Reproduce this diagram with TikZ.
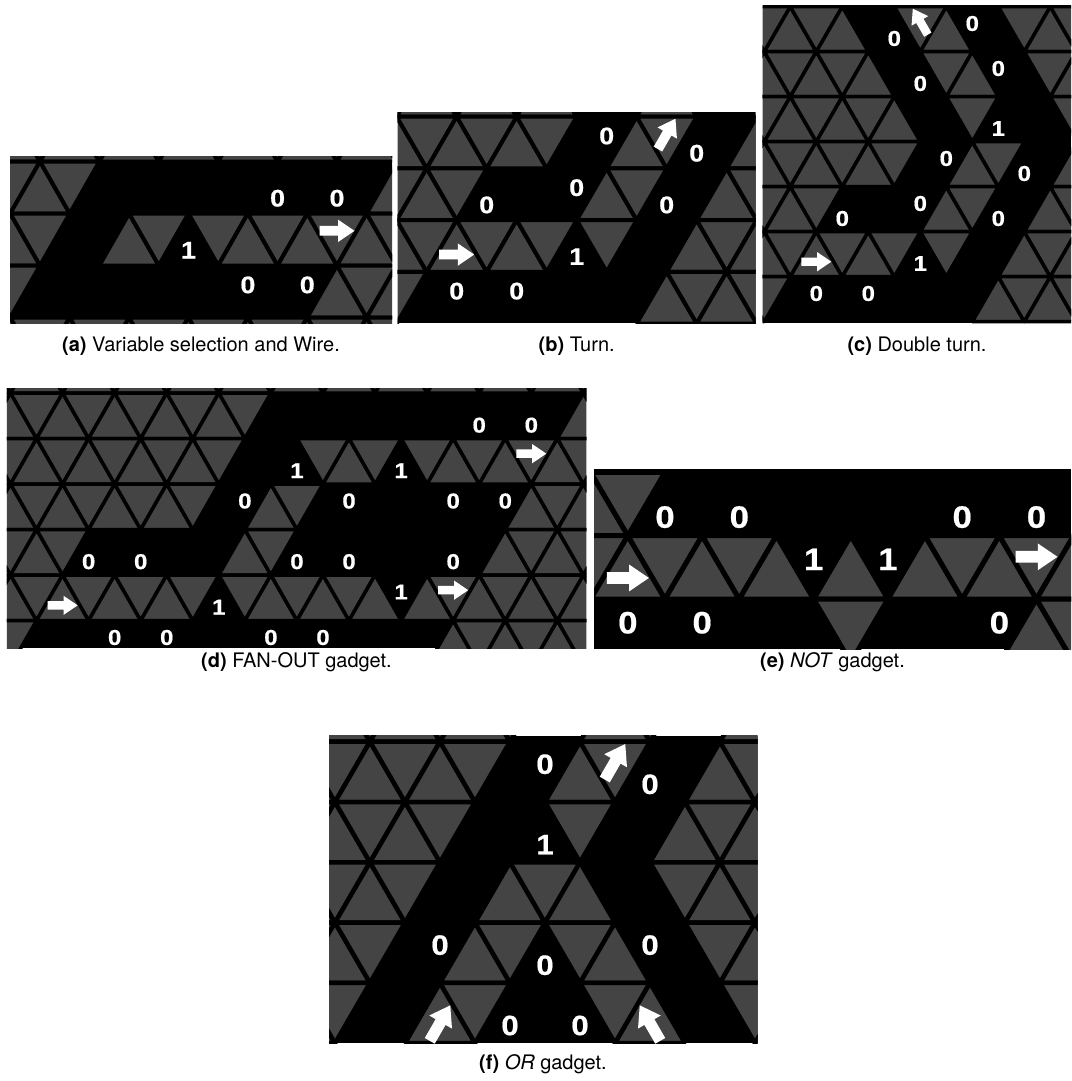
\documentclass[tikz,border=0pt]{standalone}
\usepackage{fontspec}
\setmainfont{TeX Gyre Heros}
\newfontfamily\dfont{Liberation Sans}[FakeStretch=1.12,FakeBold=0.6]
\definecolor{trigray}{RGB}{68,68,68}
\newcount\mylabcount
\newcommand\panelset[7]{\def\pX{#1}\def\pY{#2}\def\pS{#3}\def\pH{#4}\def\lw{#5}\def\dsize{#6}\def\aL{#7}}
\newcommand\tri[2]{%
  \ifodd\numexpr#1+#2\relax
    \filldraw[tribox] ({\pX+(#2-1)*\pS},{\pY+(#1)*\pH}) -- ({\pX+(#2+1)*\pS},{\pY+(#1)*\pH}) -- ({\pX+(#2)*\pS},{\pY+(#1+1)*\pH}) -- cycle;
  \else
    \filldraw[tribox] ({\pX+(#2)*\pS},{\pY+(#1)*\pH}) -- ({\pX+(#2-1)*\pS},{\pY+(#1+1)*\pH}) -- ({\pX+(#2+1)*\pS},{\pY+(#1+1)*\pH}) -- cycle;
  \fi}
\newcommand\trow[2]{\foreach \n in {#2}{\tri{#1}{\n}}}
\newcommand\lab[3]{%
  \ifodd\numexpr#1+#2\relax\def\fr{0.3733}\else\def\fr{0.7067}\fi
  \global\advance\mylabcount by 1
  \node[digit] (lab\the\mylabcount) at ({\pX+(#2)*\pS},{\pY+(#1+\fr)*\pH}) {#3};}
\newcommand\arr[3]{%
  \ifodd\numexpr#1+#2\relax\def\fr{0.3333}\else\def\fr{0.6667}\fi
  \begin{scope}[shift={({\pX+(#2)*\pS},{\pY+(#1+\fr)*\pH})}, rotate=#3]
    \fill[white] ({-0.5*\aL},{-0.14*\aL}) -- ({0.03*\aL},{-0.14*\aL}) -- ({0.03*\aL},{-0.32*\aL}) -- ({0.5*\aL},0) -- ({0.03*\aL},{0.32*\aL}) -- ({0.03*\aL},{0.14*\aL}) -- ({-0.5*\aL},{0.14*\aL}) -- cycle;
  \end{scope}}
\tikzset{
  tribox/.style={fill=trigray, draw=black, line width=\lw pt, line join=bevel},
  digit/.style={text=white, inner sep=0pt, font=\dfont\bfseries\fontsize{\dsize}{\dsize}\selectfont},
  capt/.style={text=black, inner sep=0pt, anchor=base, font=\fontsize{20}{24}\selectfont}
}
\begin{document}
\begin{tikzpicture}[x=1pt, y=-1pt]
\useasboundingbox (0,0) rectangle (1071,1081);
\fill[white] (0,0) rectangle (1071,1081);

% ---------------- (a)
\begin{scope}
\clip (10,156) rectangle (392,323.3);
\fill[black] (10,156) rectangle (392,323.3);
\panelset{40}{161.5}{29.7}{52}{4}{24}{35}
\trow{-1}{-2,...,14}
\trow{0}{-2,-1,0,1,12,13,14}
\trow{1}{-2,-1,0,3,4,6,7,8,9,10,11,12,13,14}
\trow{2}{-2,-1,10,11,12,13,14}
\trow{3}{-2,...,14}
\lab{0}{8}{0}\lab{0}{10}{0}\lab{1}{5}{1}\lab{2}{7}{0}\lab{2}{9}{0}
\arr{1}{10}{0}
\end{scope}
\node[capt] (capA) at (201,351.5) {\textbf{(a)} Variable selection and Wire.};

% ---------------- (b)
\begin{scope}
\clip (397.7,112.3) rectangle (755.7,323.3);
\fill[black] (397.7,112.3) rectangle (755.7,323.3);
\panelset{396.7}{116.7}{30}{51.7}{4}{24}{35}
\trow{-1}{-1,...,6,9,10,13}
\trow{0}{-1,...,5,8,9,12,13}
\trow{1}{-1,0,1,2,7,8,11,12,13}
\trow{2}{-1,...,5,7,10,11,12,13}
\trow{3}{-1,0,9,10,11,12,13}
\lab{0}{7}{0}\lab{0}{10}{0}\lab{1}{3}{0}\lab{1}{6}{0}\lab{1}{9}{0}
\lab{2}{6}{1}\lab{3}{2}{0}\lab{3}{4}{0}
\arr{2}{2}{0}\arr{0}{9}{60}
\end{scope}
\node[capt] (capB) at (576.7,351.5) {\textbf{(b)} Turn.};

% ---------------- (c)
\begin{scope}
\clip (762.7,5.5) rectangle (1071,323.3);
\fill[black] (762.7,5.5) rectangle (1071,323.3);
\panelset{790.3}{6.7}{26}{45}{3.5}{21.5}{30}
\trow{0}{-2,...,2,5,6,9,10,11,12}
\trow{1}{-2,...,3,6,7,10,11,12}
\trow{2}{-2,...,4,7,11,12}
\trow{3}{-2,...,4,7,8,11,12}
\trow{4}{-2,...,1,6,7,10,11,12}
\trow{5}{-2,...,4,6,9,10,11,12}
\trow{6}{-2,-1,8,9,10,11,12}
\lab{0}{4}{0}\lab{0}{7}{0}\lab{1}{5}{0}\lab{1}{8}{0}\lab{2}{8}{1}
\lab{3}{6}{0}\lab{3}{9}{0}\lab{4}{2}{0}\lab{4}{5}{0}\lab{4}{8}{0}
\lab{5}{5}{1}\lab{6}{1}{0}\lab{6}{3}{0}
\arr{5}{1}{0}\arr{0}{5}{120}
\end{scope}
\node[capt] (capC) at (917,351.5) {\textbf{(c)} Double turn.};

% ---------------- (d)
\begin{scope}
\clip (6.8,388.3) rectangle (586.3,648);
\fill[black] (6.8,388.3) rectangle (586.3,648);
\panelset{62.6}{393}{26.04}{45.5}{3.5}{21.5}{30}
\trow{-1}{-3,...,22}
\trow{0}{-3,...,7,20,21,22}
\trow{1}{-3,...,6,10,11,12,14,15,...,22}
\trow{2}{-3,...,5,8,9,18,19,20,21,22}
\trow{3}{-3,...,0,7,8,17,18,...,22}
\trow{4}{-3,...,5,7,8,9,10,11,12,14,15,...,22}
\trow{5}{-3,-2,15,16,...,22}
\lab{0}{16}{0}\lab{0}{18}{0}\lab{1}{9}{1}\lab{1}{13}{1}
\lab{2}{7}{0}\lab{2}{11}{0}\lab{2}{15}{0}\lab{2}{17}{0}
\lab{3}{1}{0}\lab{3}{3}{0}\lab{3}{9}{0}\lab{3}{11}{0}\lab{3}{15}{0}
\lab{4}{6}{1}\lab{4}{13}{1}
\lab{5}{2}{0}\lab{5}{4}{0}\lab{5}{8}{0}\lab{5}{10}{0}
\arr{1}{18}{0}\arr{4}{15}{0}\arr{4}{0}{0}
\end{scope}
\node[capt] (capD) at (296.5,667.5) {\textbf{(d)} FAN-OUT gadget.};

% ---------------- (e)
\begin{scope}
\clip (594,469.3) rectangle (1071,649);
\fill[black] (594,469.3) rectangle (1071,649);
\panelset{665}{472.3}{37.15}{63.4}{5}{31}{42}
\trow{0}{-3,-2,-1}
\trow{1}{-3,-2,-1,0,1,2,3,5,7,8,9,10,11,12}
\trow{2}{5,10,11,12}
\lab{0}{0}{0}\lab{0}{2}{0}\lab{0}{8}{0}\lab{0}{10}{0}
\lab{1}{4}{1}\lab{1}{6}{1}
\lab{2}{-1}{0}\lab{2}{1}{0}\lab{2}{9}{0}
\arr{1}{-1}{0}\arr{1}{10}{0}
\end{scope}
\node[capt] (capE) at (832.5,667.5) {\textbf{(e)} \textit{NOT} gadget.};

% ---------------- (f)
\begin{scope}
\clip (329,735.7) rectangle (757.7,1043.3);
\fill[black] (329,735.7) rectangle (757.7,1043.3);
\panelset{440}{741.7}{35}{60.3}{4.5}{28}{41}
\trow{-1}{-4,...,2,5,6,9,10}
\trow{0}{-4,...,1,4,5,8,9,10}
\trow{1}{-4,...,0,4,7,8,9,10}
\trow{2}{-4,...,-1,2,3,4,7,8,9,10}
\trow{3}{-4,-3,-2,1,2,4,5,8,9,10}
\trow{4}{-4,-3,0,1,5,6,9,10}
\lab{0}{3}{0}\lab{0}{6}{0}\lab{1}{3}{1}
\lab{3}{0}{0}\lab{3}{3}{0}\lab{3}{6}{0}
\lab{4}{2}{0}\lab{4}{4}{0}
\arr{0}{5}{60}\arr{4}{0}{60}\arr{4}{6}{120}
\end{scope}
\node[capt] (capF) at (543,1069.5) {\textbf{(f)} \textit{OR} gadget.};
\end{tikzpicture}
\end{document}
